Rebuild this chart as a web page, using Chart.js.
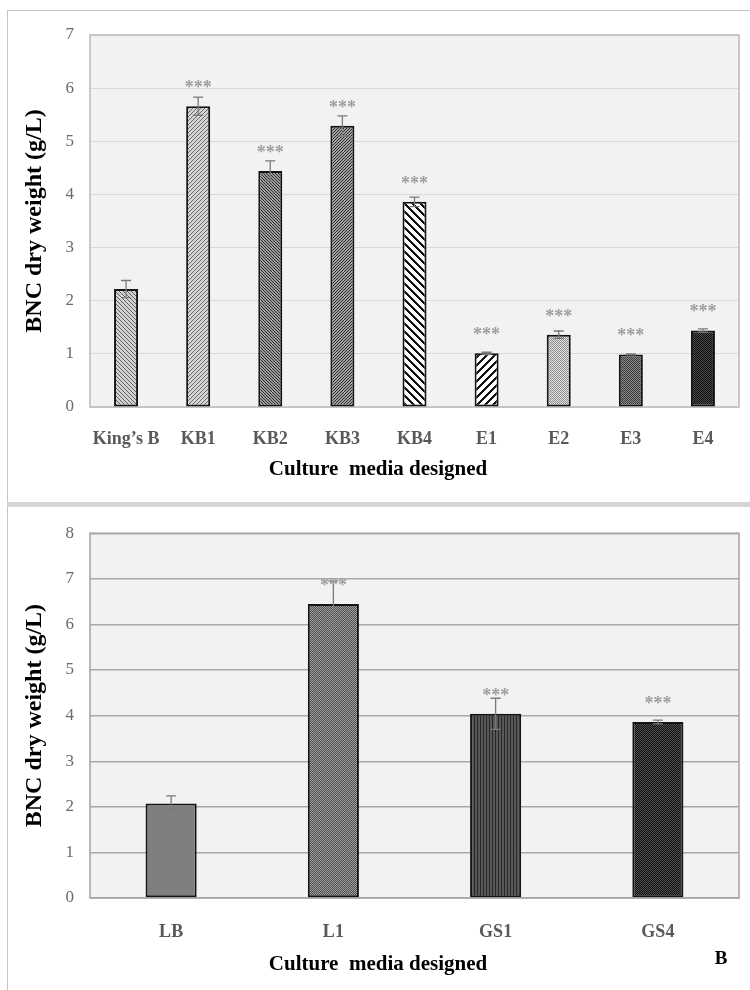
<!DOCTYPE html>
<html>
<head>
<meta charset="utf-8">
<script src="https://cdn.jsdelivr.net/npm/chart.js@4/dist/chart.umd.min.js"></script>
<style>
  html, body { margin: 0; padding: 0; background: #ffffff; }
  body { width: 750px; height: 990px; position: relative; overflow: hidden; }
  .panel { position: absolute; background: #ffffff; box-sizing: border-box; }
  #panelA { left: 7px; top: 10px; width: 743px; height: 492px; border-top: 1px solid #c4c4c4; border-left: 1px solid #c4c4c4; }
  #band { position: absolute; left: 7px; top: 502px; width: 743px; height: 5px; background: #d6d6d6; }
  #panelB { left: 7px; top: 507px; width: 743px; height: 483px; border-left: 1px solid #c4c4c4; }
  .holder { position: absolute; left: 0; width: 750px; }
  #holderA { top: 0; height: 500px; }
  #holderB { top: 507px; height: 483px; }
</style>
</head>
<body>
<div class="panel" id="panelA"></div>
<div id="band"></div>
<div class="panel" id="panelB"></div>
<div class="holder" id="holderA"><canvas id="chartA"></canvas></div>
<div class="holder" id="holderB"><canvas id="chartB"></canvas></div>
<script>
// ---- Panel A: King's B based media ----
const mediaA = ['King\u2019s B', 'KB1', 'KB2', 'KB3', 'KB4', 'E1', 'E2', 'E3', 'E4'];
const weightA = [2.22, 5.66, 4.44, 5.29, 3.86, 1.01, 1.36, 0.99, 1.44];
const sdA = [0.16, 0.17, 0.19, 0.19, 0.09, 0.02, 0.07, 0.01, 0.03];
const markA = ['', '***', '***', '***', '***', '***', '***', '***', '***'];
const ticksA = [0, 1, 2, 3, 4, 5, 6, 7];

// ---- Panel B: LB based media ----
const mediaB = ['LB', 'L1', 'GS1', 'GS4'];
const weightB = [2.07, 6.45, 4.04, 3.86];
const sdB = [0.17, 0.5, 0.34, 0.04];
const markB = ['', '***', '***', '***'];
const ticksB = [0, 1, 2, 3, 4, 5, 6, 7, 8];

const xAxisTitle = 'Culture  media designed';
const yAxisTitle = 'BNC dry weight (g/L)';

const SERIF = "'Liberation Serif', 'Times New Roman', serif";

// Small repeating tiles used as bar fills
function tile(n, paint) {
  const c = document.createElement('canvas');
  c.width = n; c.height = n;
  const g = c.getContext('2d');
  for (let x = 0; x < n; x++) {
    for (let y = 0; y < n; y++) {
      g.fillStyle = paint(x, y);
      g.fillRect(x, y, 1, 1);
    }
  }
  return g.createPattern(c, 'repeat');
}
function stripes(n, w, dir, fg, bg) {
  return tile(n, (x, y) => {
    const k = dir === 'back' ? (x - y) : dir === 'fwd' ? (x + y) : x;
    return (((k % n) + n) % n) < w ? fg : bg;
  });
}
function dots(fg, bg) {
  return tile(2, (x, y) => ((x + y) % 2 === 0 ? fg : bg));
}

const fillsA = [
  stripes(4, 1, 'back', '#5e5e5e', '#d2d2d2'),
  stripes(4, 1, 'fwd', '#666666', '#d6d6d6'),
  stripes(3, 1, 'back', '#2c2c2c', '#9c9c9c'),
  stripes(3, 1, 'fwd', '#2c2c2c', '#a0a0a0'),
  stripes(8, 3, 'back', '#111111', '#ffffff'),
  stripes(8, 3, 'fwd', '#111111', '#ffffff'),
  dots('#8a8a8a', '#e4e4e4'),
  dots('#383838', '#8c8c8c'),
  dots('#101010', '#4a4a4a')
];
const fillsB = [
  '#7f7f7f',
  dots('#525252', '#9c9c9c'),
  stripes(3, 1, 'vert', '#262626', '#585858'),
  dots('#101010', '#505050')
];

// Plot background and frame around the chart area
const plotFrame = {
  id: 'plotFrame',
  beforeDraw(chart, args, o) {
    const { ctx, chartArea: a } = chart;
    ctx.save();
    ctx.fillStyle = o.fill;
    ctx.fillRect(a.left, a.top, a.right - a.left, a.bottom - a.top);
    ctx.restore();
  },
  beforeDatasetsDraw(chart, args, o) {
    const { ctx, chartArea: a } = chart;
    ctx.save();
    ctx.strokeStyle = o.border;
    ctx.lineWidth = o.width;
    ctx.strokeRect(a.left, a.top, a.right - a.left, a.bottom - a.top);
    ctx.restore();
  }
};

// Standard-deviation whiskers and significance marks above each bar
const errorMarks = {
  id: 'errorMarks',
  afterDatasetsDraw(chart, args, o) {
    const { ctx } = chart;
    const ys = chart.scales.y;
    const meta = chart.getDatasetMeta(0);
    const vals = chart.data.datasets[0].data;
    ctx.save();
    meta.data.forEach((bar, i) => {
      const v = vals[i], e = o.errors[i];
      const yTop = ys.getPixelForValue(v + e);
      const yBot = ys.getPixelForValue(v - e);
      ctx.strokeStyle = o.color;
      ctx.lineWidth = 1.3;
      ctx.beginPath();
      ctx.moveTo(bar.x, yTop); ctx.lineTo(bar.x, yBot);
      ctx.moveTo(bar.x - o.cap, yTop); ctx.lineTo(bar.x + o.cap, yTop);
      ctx.moveTo(bar.x - o.cap, yBot); ctx.lineTo(bar.x + o.cap, yBot);
      ctx.stroke();
      if (o.marks[i]) {
        ctx.fillStyle = o.markColor;
        ctx.font = 'bold 18px ' + SERIF;
        ctx.textAlign = 'center';
        ctx.textBaseline = 'alphabetic';
        ctx.fillText(o.marks[i], bar.x, bar.y - 23 + 10);
      }
    });
    ctx.restore();
  }
};

// Category-axis caption and panel letter
const captions = {
  id: 'captions',
  afterDraw(chart, args, o) {
    const { ctx } = chart;
    ctx.save();
    ctx.fillStyle = '#000000';
    ctx.textAlign = 'center';
    ctx.textBaseline = 'middle';
    ctx.font = 'bold 21px ' + SERIF;
    ctx.fillText(o.title, o.titleX, o.titleY);
    if (o.letter) {
      ctx.font = 'bold 19px ' + SERIF;
      ctx.fillText(o.letter, o.letterX, o.letterY);
    }
    ctx.restore();
  }
};

function buildChart(id, labels, values, fills, ticks, cfg) {
  return new Chart(document.getElementById(id), {
    type: 'bar',
    data: {
      labels: labels,
      datasets: [{
        data: values,
        backgroundColor: fills,
        borderColor: '#141414',
        borderWidth: 2,
        borderSkipped: false,
        categoryPercentage: 1,
        barPercentage: cfg.barPct
      }]
    },
    options: {
      responsive: true,
      maintainAspectRatio: false,
      animation: false,
      layout: { padding: { top: cfg.padTop, right: 11, left: 0, bottom: 0 } },
      plugins: {
        legend: { display: false },
        tooltip: { enabled: false },
        plotFrame: { fill: '#f2f2f2', border: cfg.frame, width: 1.6 },
        errorMarks: { errors: cfg.errors, marks: cfg.marks, color: '#7a7a7a', markColor: '#9d9d9d', cap: 5 },
        captions: cfg.captions
      },
      scales: {
        x: {
          grid: { display: false },
          border: { display: false },
          ticks: {
            color: '#595959',
            padding: cfg.xPad,
            maxRotation: 0,
            autoSkip: false,
            font: { family: SERIF, size: 18, weight: 'bold' }
          },
          afterFit(s) { s.height = cfg.xHeight; }
        },
        y: {
          min: 0,
          max: ticks[ticks.length - 1],
          afterBuildTicks(s) { s.ticks = ticks.map(v => ({ value: v })); },
          grid: { color: cfg.grid, lineWidth: cfg.gridWidth, drawTicks: false },
          border: { display: false },
          ticks: {
            color: '#6a6a6a',
            padding: 16,
            font: { family: SERIF, size: 17 }
          },
          title: {
            display: true,
            text: yAxisTitle,
            color: '#000000',
            font: { family: SERIF, size: 24, weight: 'bold' },
            padding: { top: 20, bottom: 0 }
          },
          afterFit(s) { s.width = 90; }
        }
      }
    },
    plugins: [plotFrame, errorMarks, captions]
  });
}

buildChart('chartA', mediaA, weightA, fillsA, ticksA, {
  barPct: 0.333, padTop: 35, xHeight: 93, xPad: 14,
  grid: '#d9d9d9', gridWidth: 1, frame: '#bdbdbd',
  errors: sdA, marks: markA,
  captions: { title: xAxisTitle, titleX: 378, titleY: 470 }
});

buildChart('chartB', mediaB, weightB, fillsB, ticksB, {
  barPct: 0.315, padTop: 22, xHeight: 92, xPad: 16,
  grid: '#a8a8a8', gridWidth: 1.4, frame: '#a8a8a8',
  errors: sdB, marks: markB,
  captions: { title: xAxisTitle, titleX: 378, titleY: 458, letter: 'B', letterX: 721, letterY: 452 }
});
</script>
</body>
</html>
